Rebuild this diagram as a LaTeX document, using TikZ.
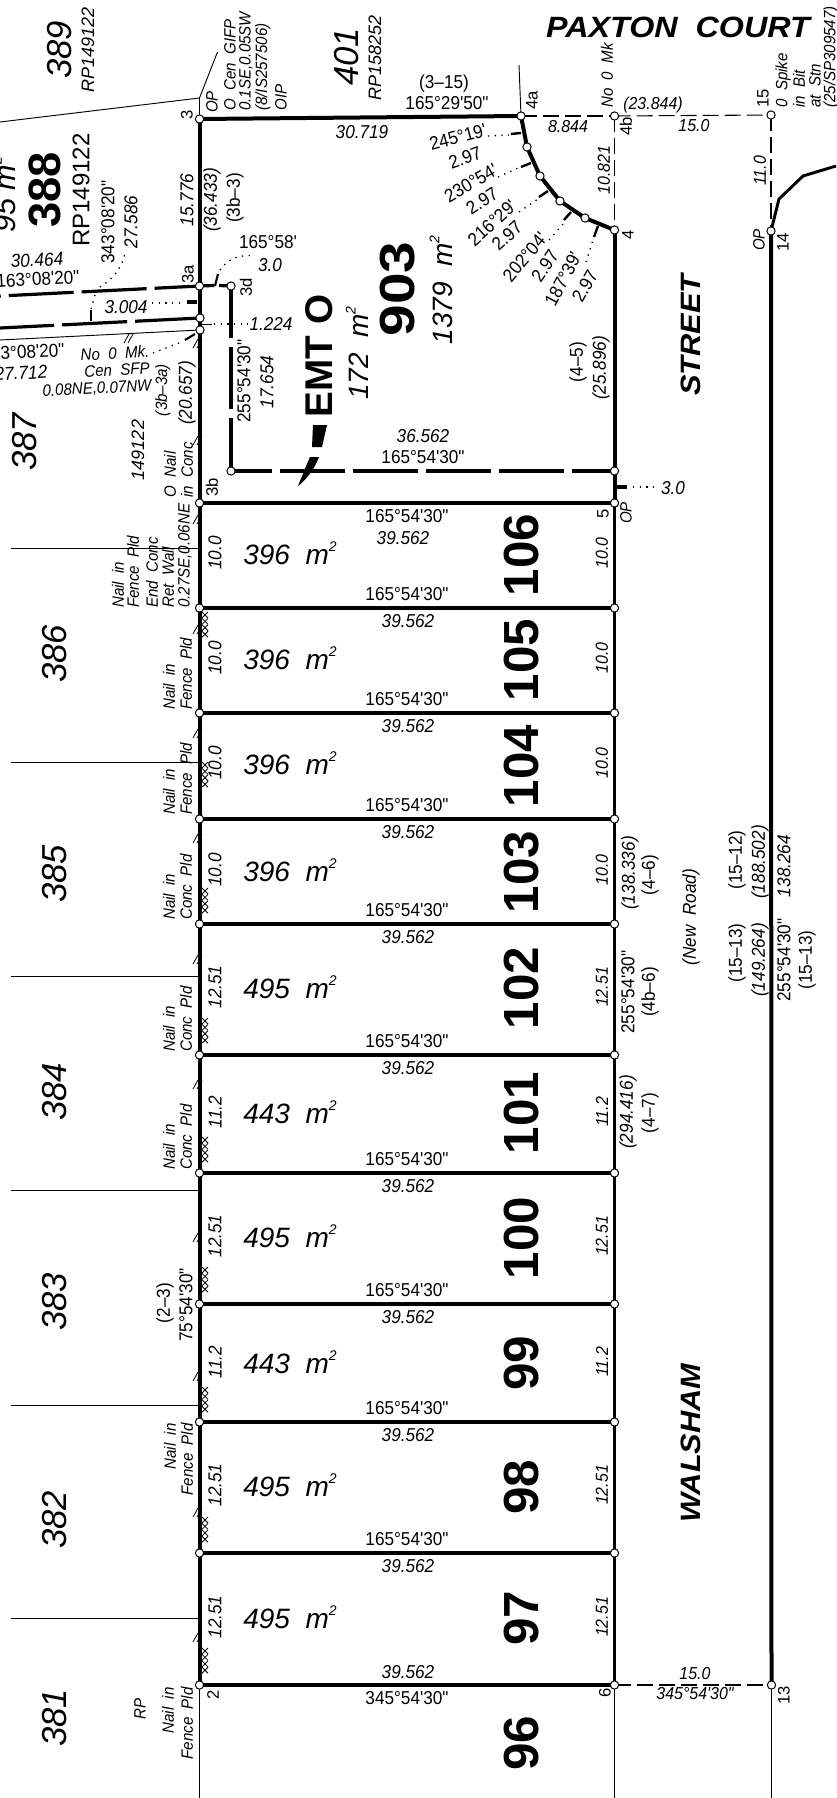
\documentclass[tikz,border=0pt]{standalone}
\usepackage{fontspec}
\newfontfamily\plan[FakeStretch=0.92]{Liberation Sans}
\newfontfamily\planw{Liberation Sans}
\newfontfamily\planb[FakeStretch=1.1]{Liberation Sans}
\newfontfamily\planc[FakeStretch=1.15]{Liberation Sans}
\newcommand\DMS{165°54'30"}
\newcommand\msq{m\raisebox{0.85ex}{\fontsize{10.5}{11}\selectfont 2}}
\tikzset{
  up/.style={font=\plan\fontsize{14}{16}\selectfont,inner sep=0pt},
  it/.style={font=\plan\itshape\fontsize{14}{16}\selectfont,inner sep=0pt},
  sm/.style={font=\plan\itshape\fontsize{12.3}{14}\selectfont,inner sep=0pt},
  ln/.style={font=\plan\itshape\fontsize{13}{15}\selectfont,inner sep=0pt},
  pt/.style={font=\planw\fontsize{12.5}{14}\selectfont,inner sep=0pt},
  area/.style={font=\planw\itshape\fontsize{21}{24}\selectfont,inner sep=0pt},
  nbr/.style={font=\planw\itshape\fontsize{26}{28}\selectfont,inner sep=0pt,rotate=90},
  rp/.style={font=\planw\itshape\fontsize{13.5}{15}\selectfont,inner sep=0pt,rotate=90},
  lot/.style={font=\planw\bfseries\fontsize{37}{40}\selectfont,inner sep=0pt,rotate=90},
  road/.style={font=\planb\bfseries\itshape\fontsize{21}{24}\selectfont,inner sep=0pt},
  v/.style={rotate=90},
  mk/.style={circle,draw=black,fill=white,line width=0.75pt,minimum size=6.2pt,inner sep=0pt},
  heavy/.style={line width=3pt},
  mid/.style={line width=2.4pt},
  thin line/.style={line width=0.7pt},
  tail line/.style={line width=1.1pt},
  rdash/.style={line width=0.8pt,dash pattern=on 12pt off 4.5pt},
  dots/.style={line width=1pt,dash pattern=on 1pt off 4pt},
  fine/.style={line width=0.6pt},
}
\newcommand\fencemark[1]{%
  \foreach \k in {0,1,2,3}{%
    \draw[fine] (202,{#1+\k*6.4}) -- (208,{#1+\k*6.4+6});
    \draw[fine] (208,{#1+\k*6.4}) -- (202,{#1+\k*6.4+6});
  }}
\newcommand\slashes[2]{%
  \draw[fine] (#1-3,#2+5) -- (#1+2,#2-4);
  \draw[fine] (#1+1,#2+5) -- (#1+6,#2-4);}
\begin{document}
\begin{tikzpicture}[x=0.75pt,y=-0.75pt]
\useasboundingbox (0,0) rectangle (836,1798);
\fill[white] (0,0) rectangle (836,1798);
% --- survey points
\coordinate (p3) at (199.5,119);
\coordinate (p3t) at (199.5,98);
\coordinate (pgi) at (217.5,52);
\coordinate (pw1) at (0,122);
\coordinate (p3a) at (199.5,286);
\coordinate (p3c) at (200,318);
\coordinate (p3e) at (200,330);
\coordinate (p3b) at (199.5,503);
\coordinate (p3d) at (231,286);
\coordinate (pin) at (231,471);
\coordinate (p4a) at (521,116);
\coordinate (p4at) at (519,65);
\coordinate (c1) at (527,147);
\coordinate (c2) at (540,176);
\coordinate (c3) at (560,201);
\coordinate (c4) at (585,218);
\coordinate (p4) at (614.5,230);
\coordinate (p4b) at (614.5,116);
\coordinate (p15) at (771,115);
\coordinate (p14) at (771,231);
\coordinate (pe) at (614.5,471);
\coordinate (p5) at (614.5,503);
\coordinate (p2) at (199.5,1685);
\coordinate (p6) at (614.5,1685);
\coordinate (p13) at (771.5,1685);
\coordinate (bl) at (199.5,1798);
\coordinate (bm) at (614.5,1798);
\coordinate (br) at (771.5,1798);
\coordinate (w1) at (0,296);
\coordinate (w2) at (0,328);
\coordinate (w3) at (0,340);
\coordinate (r1) at (779,199);
\coordinate (r2) at (803,176);
\coordinate (r3) at (836,166);
% --- main boundaries
\draw[heavy] (p3) -- (p4a);
\draw[heavy,line join=round] (p4a) -- (c1) -- (c2) -- (c3) -- (c4) -- (p4);
\draw[heavy] (p3) -- (p2);
\draw[heavy] (p4) -- (p5);
\draw[mid] (p5) -- (p6);
\draw[heavy] (p14) -- (p13);
\draw[line width=2.2pt] (p14) -- (r1) -- (r2) -- (r3);
\draw[mid] (p3b) -- (p5);
\draw[mid] (p2) -- (p6);
\draw[tail line] (p2) -- (bl);
\draw[tail line] (p6) -- (bm);
\draw[tail line] (p13) -- (br);
\draw[thin line] (p3) -- (p3t) -- (pgi);
\draw[thin line] (p3t) -- (pw1);
\draw[thin line] (p4a) -- (p4at);
\draw[rdash] (p4a) -- (p4b);
\draw[rdash] (p4b) -- (p15);
\draw[rdash] (p4b) -- (p4);
\draw[rdash] (p15) -- (p14);
\draw[rdash] (p6) -- (p13);
% --- lot lines
\foreach \n/\y in {1/608,2/713,3/819,4/924,5/1055,6/1173,7/1304,8/1422,9/1553}{
  \coordinate (L\n) at (199.5,\y);
  \coordinate (R\n) at (614.5,\y);
  \draw[mid] (L\n) -- (R\n);
  \node[up] at (407,{\y-14}) {\DMS};
  \node[it] at (408,{\y+13}) {39.562};
}
% --- neighbouring boundaries
\foreach \n/\y in {a/548,b/762,c/976,d/1190,e/1405,f/1618}{
  \coordinate (N\n) at (11,\y);
  \coordinate (M\n) at (199.5,\y);
  \draw[thin line] (N\n) -- (M\n);
}
% --- easement and dashed lines
\draw[mid,dash pattern=on 48.75pt off 6pt,dash phase=15pt] (p3a) -- (w1);
\draw[mid,dash pattern=on 48.75pt off 6pt] (p3c) -- (w2);
\draw[thin line] (p3e) -- (w3);
\draw[mid] (p3a) -- (214,285.5);
\draw[mid] (219,285.5) -- (p3d);
\draw[mid,dash pattern=on 46.5pt off 6.75pt,dash phase=7.5pt] (p3d) -- (pin);
\draw[mid,dash pattern=on 48.75pt off 6pt,dash phase=18pt] (pin) -- (pe);
% --- ticks and dotted leaders
\draw[line width=1.6pt] (218,274) -- (215,286);
\draw[dots] (220,270) .. controls (228,258) and (242,254) .. (255,256);
\draw[dots] (100,287) .. controls (112,280) and (122,268) .. (125,253);
\draw[mid] (187,302) -- (197,302);
\draw[dots] (152,303) -- (184,303);
\draw[line width=1.2pt] (91,310) -- (91,321);
\draw[dots] (91,309) -- (95,295);
\draw[thin line] (200,324) -- (212,324);
\draw[dots] (214,324) -- (248,324);
\draw[line width=1.6pt] (185,340) -- (195,334);
\draw[dots] (153,353) -- (184,341);
\draw[mid] (614.5,487) -- (627,487);
\draw[dots] (633,487) -- (655,487);
\draw[line width=1.8pt] (511,134) -- (521,133);
\draw[dots] (488,136) -- (509,135);
\draw[line width=1.8pt] (521,167) -- (531,163);
\draw[dots] (498,177) -- (518,168);
\draw[line width=1.8pt] (539,197) -- (548,191);
\draw[dots] (519,212) -- (538,199);
\draw[line width=1.8pt] (564,220) -- (571,212);
\draw[dots] (549,240) -- (563,224);
\draw[line width=1.8pt] (594,237) -- (598,226);
\draw[dots] (586,262) -- (593,240);
% --- slashes and fence marks
\foreach \y in {519,629,733,838,959,1084,1237,1376,1512,1637,343,440}{\slashes{196}{\y}}
\slashes{127}{338}
\foreach \y in {612,762,888,1018,1137,1267,1387,1517,1648}{\fencemark{\y}}
% --- easement arrow
\fill (313,425) -- (327,425) -- (322,447) -- (312,447) -- cycle;
\fill (310,457) -- (319,457) .. controls (314,470) and (306,480) .. (298,486) .. controls (302,476) and (306,466) .. (310,457) -- cycle;
% --- survey marks
\foreach \p in {p3,p3a,p3c,p3e,p3b,p3d,pin,p4a,c1,c2,c3,c4,p4,p4b,p15,p14,pe,p5,p2,p6,p13,L1,L2,L3,L4,L5,L6,L7,L8,L9,R1,R2,R3,R4,R5,R6,R7,R8,R9}
  \node[mk] at (\p) {};
% --- lot numbers, areas, side lengths
\node[lot] at (522,555) {106};
\node[lot] at (522,660) {105};
\node[lot] at (522,766) {104};
\node[lot] at (522,872) {103};
\node[lot] at (522,988) {102};
\node[lot] at (522,1113) {101};
\node[lot] at (522,1238) {100};
\node[lot] at (522,1363) {99};
\node[lot] at (522,1487) {98};
\node[lot] at (522,1618) {97};
\node[lot] at (522,1743) {96};
\foreach \y/\a/\s in {553/396/10.0,658/396/10.0,763/396/10.0,870/396/10.0,987/495/12.51,1112/443/11.2,1236/495/12.51,1362/443/11.2,1485/495/12.51,1617/495/12.51}{
  \node[area] at (290,\y) {\a\ \ \msq};
  \node[it,v] at (215,\y) {\s};
  \node[ln,v] at (602,\y) {\s};
}
% --- neighbours
\node[nbr] at (60,50) {389};
\node[rp] at (88,50) {RP149122};
\node[nbr] at (347,57) {401};
\node[rp] at (375,58) {RP158252};
\node[nbr] at (25,442) {387};
\node[nbr] at (55,654) {386};
\node[nbr] at (55,874) {385};
\node[nbr] at (55,1092) {384};
\node[nbr] at (55,1302) {383};
\node[nbr] at (55,1520) {382};
\node[nbr] at (55,1718) {381};
\node[font=\planw\bfseries\fontsize{34}{36}\selectfont,inner sep=0pt,rotate=90] at (45,190) {388};
\node[font=\planw\fontsize{18}{20}\selectfont,inner sep=0pt,rotate=90] at (81,190) {RP149122};
\node[font=\planw\itshape\fontsize{23}{25}\selectfont,inner sep=0pt,rotate=90] at (4,195) {95 \msq};
\node[rp] at (138,450) {149122};
\node[sm,v] at (140,1709) {RP};
% --- top corner
\node[sm,v] at (212,102) {OP};
\node[sm,v,anchor=west] at (230,111) {O\ \ Cen\ \ GIFP};
\node[sm,v,anchor=west] at (246,111) {0.1SE,0.05SW};
\node[sm,v,anchor=west] at (263,111) {(8/IS257506)};
\node[sm,v,anchor=west] at (281,111) {OIP};
\node[up] at (444,84) {(3–15)};
\node[up] at (447,103) {165°29'50"};
\node[it] at (362,132) {30.719};
\node[it,v] at (187,200) {15.776};
\node[it,v] at (212,200) {(36.433)};
\node[up,v] at (235,198) {(3b–3)};
\node[up,v] at (108,222) {343°08'20"};
\node[it,v] at (131,222) {27.586};
\node[it,rotate=3] at (37,260) {30.464};
\node[up,rotate=3] at (38,279) {163°08'20"};
\node[up] at (268,242) {165°58'};
\node[it] at (270,265) {3.0};
\node[it] at (126,307) {3.004};
\node[it] at (271,324) {1.224};
\node[sm,rotate=3] at (115,353) {No\ \ 0\ \ Mk.};
\node[sm,rotate=3] at (117,370) {Cen\ \ SFP};
\node[sm,rotate=3] at (97,389) {0.08NE,0.07NW};
\node[up,rotate=3] at (23,352) {163°08'20"};
\node[it,rotate=3] at (21,373) {27.712};
\node[sm,v] at (163,390) {(3b–3a)};
\node[it,v] at (187,393) {(20.657)};
\node[up,v] at (244,381) {255°54'30"};
\node[it,v] at (267,382) {17.654};
\node[sm,v,anchor=west] at (170,498) {O\ \ Nail};
\node[sm,v,anchor=west] at (187,498) {in\ \ Conc};
% --- point labels
\node[pt,v] at (187,115) {3};
\node[pt,v] at (188,274) {3a};
\node[pt,v] at (246,287) {3d};
\node[pt,v] at (212,487) {3b};
\node[pt,v] at (213,1695) {2};
\node[pt,v] at (532,100) {4a};
\node[pt,v] at (626,126) {4b};
\node[pt,v] at (628,235) {4};
\node[pt,v] at (603,514) {5};
\node[sm,v] at (626,513) {OP};
\node[pt,v] at (605,1693) {6};
\node[pt,v] at (784,1695) {13};
\node[pt,v] at (783,242) {14};
\node[sm,v] at (759,240) {OP};
\node[pt,v] at (763,98) {15};
% --- curve
\node[up,rotate=15] at (458,137) {245°19'};
\node[up,rotate=20] at (465,158) {2.97};
\node[up,rotate=30] at (471,183) {230°54'};
\node[up,rotate=33] at (482,201) {2.97};
\node[up,rotate=42] at (492,223) {216°29'};
\node[up,rotate=42] at (507,236) {2.97};
\node[up,rotate=50] at (525,257) {202°04'};
\node[up,rotate=56] at (545,266) {2.97};
\node[up,rotate=62] at (563,279) {187°39'};
\node[up,rotate=60] at (585,286) {2.97};
% --- big labels
\node[font=\planc\bfseries\fontsize{37}{40}\selectfont,inner sep=0pt,rotate=90] at (398,289) {903};
\node[area,v] at (441,290) {1379\ \ \msq};
\node[font=\planw\bfseries\fontsize{29}{32}\selectfont,inner sep=0pt,rotate=90] at (319,356) {EMT O};
\node[area,v] at (357,353) {172\ \ \msq};
\node[it] at (423,436) {36.562};
\node[up] at (423,457) {\DMS};
\node[up] at (407,516) {\DMS};
\node[it] at (403,538) {39.562};
\node[up] at (407,1698) {345°54'30"};
\node[it] at (408,1672) {39.562};
\node[ln] at (695,1674) {15.0};
\node[ln] at (695,1694) {345°54'30"};
% --- road labels
\node[road,font=\planb\bfseries\itshape\fontsize{22}{24}\selectfont] at (678,27) {PAXTON\ \ COURT};
\node[road,v] at (691,335) {STREET};
\node[road,v] at (691,1443) {WALSHAM};
\node[it,v] at (691,917) {(New\ \ Road)};
\node[sm,v,anchor=west] at (607,108) {No\ \ 0\ \ Mk};
\node[sm,v,anchor=west] at (783,108) {0\ \ Spike};
\node[sm,v,anchor=west] at (799,108) {in\ \ Bit};
\node[sm,v,anchor=west] at (815,108) {at\ \ Stn};
\node[sm,v,anchor=west] at (831,108) {(25/SP309547)};
\node[ln] at (653,105) {(23.844)};
\node[ln] at (568,127) {8.844};
\node[ln] at (694,126) {15.0};
\node[ln,v] at (604,170) {10.821};
\node[ln,v] at (760,171) {11.0};
\node[up,v] at (578,362) {(4–5)};
\node[it,v] at (601,368) {(25.896)};
\node[it] at (673,488) {3.0};
% --- right side lengths
\node[it,v] at (630,873) {(138.336)};
\node[up,v] at (650,875) {(4–6)};
\node[up,v] at (628,992) {255°54'30"};
\node[up,v] at (650,992) {(4b–6)};
\node[it,v] at (628,1112) {(294.416)};
\node[up,v] at (650,1113) {(4–7)};
\node[up,v] at (737,953) {(15–13)};
\node[it,v] at (760,960) {(149.264)};
\node[up,v] at (737,860) {(15–12)};
\node[it,v] at (760,862) {(188.502)};
\node[it,v] at (784,866) {138.264};
\node[up,v] at (784,960) {255°54'30"};
\node[up,v] at (807,960) {(15–13)};
% --- left side notes
\node[sm,v,anchor=west] at (118,608) {Nail\ \ in};
\node[sm,v,anchor=west] at (133,608) {Fence\ \ Pld};
\node[sm,v,anchor=west] at (152,608) {End\ \ Conc};
\node[sm,v,anchor=west] at (168,608) {Ret\ \ Wall};
\node[sm,v,anchor=west] at (185,608) {0.27SE,0.06NE};
\foreach \b/\t in {710/Fence,815/Fence,920/Conc,1052/Conc,1170/Conc}{
  \node[sm,v,anchor=west] at (169,\b) {Nail\ \ in};
  \node[sm,v,anchor=west] at (186,\b) {\t\ \ Pld};
}
\node[sm,v,anchor=east] at (170,1423) {Nail\ \ in};
\node[sm,v,anchor=east] at (187,1423) {Fence\ \ Pld};
\node[sm,v,anchor=east] at (168,1687) {Nail\ \ in};
\node[sm,v,anchor=east] at (187,1687) {Fence\ \ Pld};
\node[up,v] at (165,1303) {(2–3)};
\node[up,v] at (186,1305) {75°54'30"};
\end{tikzpicture}
\end{document}
